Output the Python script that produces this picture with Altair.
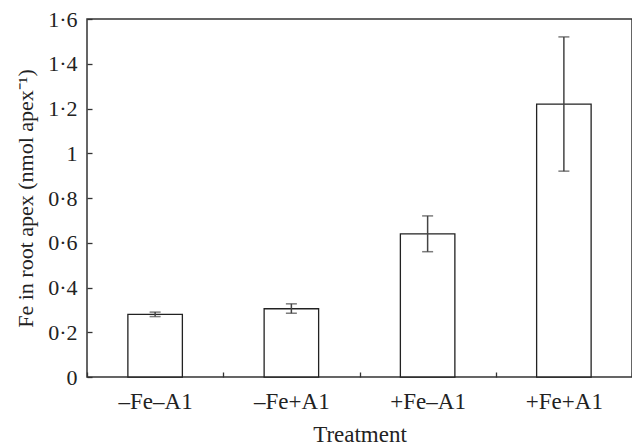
import altair as alt
import pandas as pd

treatments = ["–Fe–A1", "–Fe+A1", "+Fe–A1", "+Fe+A1"]
means = [0.28, 0.305, 0.64, 1.22]
err_low = [0.27, 0.285, 0.56, 0.92]
err_high = [0.29, 0.327, 0.72, 1.52]
y_ticks = [0, 0.2, 0.4, 0.6, 0.8, 1.0, 1.2, 1.4, 1.6]

df = pd.DataFrame({"treatment": treatments, "mean": means, "lo": err_low, "hi": err_high})

FONT = "Liberation Serif"
INK = "#333333"
TXT = "#222222"

xscale = alt.Scale(paddingInner=0, paddingOuter=0)
yscale = alt.Scale(domain=[0, 1.6], nice=False, zero=True)

label_expr = ("abs(datum.value - round(datum.value)) < 1e-6 ? format(datum.value, 'd') : "
              "replace(format(datum.value, '.1f'), '.', '·')")

xaxis = alt.Axis(title="Treatment", tickBand="extent", offset=-5, tickSize=5,
                 domain=False, labelAngle=0, labelPadding=13, titlePadding=10,
                 tickColor=INK, tickWidth=1.3, labelColor=TXT,
                 titleColor=TXT, labelFontSize=23, titleFontSize=23,
                 labelFont=FONT, titleFont=FONT, titleFontWeight="normal")
yaxis = alt.Axis(title="Fe in root apex (nmol apex⁻¹)", values=y_ticks, offset=-5,
                 tickSize=5, domain=False, grid=False, labelExpr=label_expr,
                 labelPadding=10, titlePadding=10, tickColor=INK, tickWidth=1.3,
                 labelColor=TXT, titleColor=TXT, labelFontSize=22,
                 titleFontSize=22, labelFont=FONT, titleFont=FONT,
                 titleFontWeight="normal")

xe = alt.X("treatment:N", sort=treatments, scale=xscale, axis=xaxis)

bars = alt.Chart(df).mark_bar(
    fill="white", stroke="#222222", strokeWidth=1.3, width=alt.RelativeBandSize(0.4)
).encode(
    x=xe,
    y=alt.Y("mean:Q", scale=yscale, axis=yaxis),
)

rule = alt.Chart(df).mark_rule(color="#444444", strokeWidth=1.5).encode(
    x=xe,
    y=alt.Y("lo:Q", scale=yscale, axis=yaxis),
    y2="hi:Q",
)
cap_lo = alt.Chart(df).mark_tick(color="#444444", thickness=1.5, size=11).encode(
    x=xe, y=alt.Y("lo:Q", scale=yscale, axis=yaxis)
)
cap_hi = alt.Chart(df).mark_tick(color="#444444", thickness=1.5, size=11).encode(
    x=xe, y=alt.Y("hi:Q", scale=yscale, axis=yaxis)
)

chart = alt.layer(bars, rule, cap_lo, cap_hi).properties(
    width=545, height=358,
    autosize=alt.AutoSizeParams(type="none"),
    padding={"left": 79, "top": 11, "right": 0, "bottom": 70},
    background="white",
).configure(font=FONT).configure_view(stroke=INK, strokeWidth=1.5)

chart.save("out.html", embed_options={"renderer": "svg", "actions": False})
